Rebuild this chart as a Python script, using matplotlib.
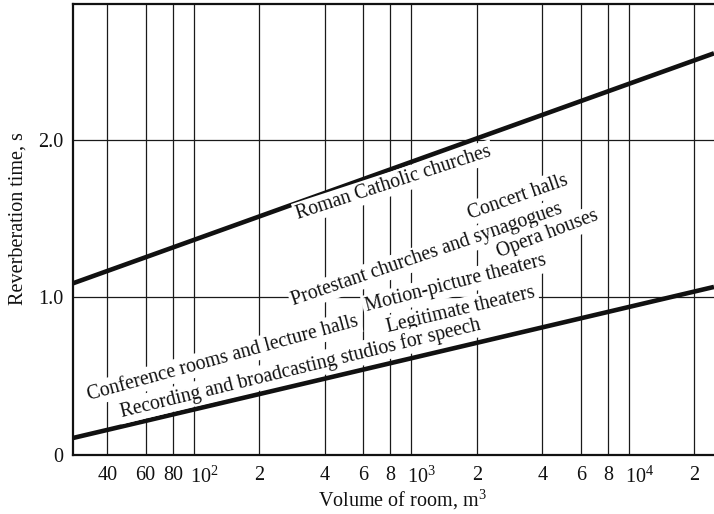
import numpy as np
import matplotlib
matplotlib.use("Agg")
import matplotlib.pyplot as plt
from matplotlib.transforms import ScaledTranslation

# Reverberation time vs room volume (log scale)
volume_ends = [27.8, 24600]          # m^3, ends of the two bounding lines
catholic_time = [1.09, 2.55]         # upper line, Roman Catholic churches
speech_time = [0.108, 1.067]         # lower line, studios for speech

grid_volumes = [40, 60, 80, 100, 200, 400, 600, 800, 1000,
                2000, 4000, 6000, 8000, 10000, 20000]
grid_labels = ['40', '60', '80', r'$\mathregular{10^2}$', '2', '4', '6', '8',
               r'$\mathregular{10^3}$', '2', '4', '6', '8',
               r'$\mathregular{10^4}$', '2']
y_ticks = [0, 1.0, 2.0]
y_labels = ['0', '1.0', '2.0']

room_labels = ['Roman Catholic churches', 'Concert halls',
               'Protestant churches and synagogues', 'Opera houses',
               'Motion-picture theaters', 'Legitimate theaters',
               'Conference rooms and lecture halls',
               'Recording and broadcasting studios for speech']
label_volume = [830, 3080, 1183, 4250, 1592, 1694, 136, 310]
label_time = [1.727, 1.638, 1.27, 1.40, 1.086, 0.921, 0.616, 0.552]
label_angle = [18.1, 19.3, 18.9, 20.8, 14.5, 13.4, 15.4, 13.7]

plt.rcParams['font.family'] = ['Liberation Serif', 'DejaVu Serif']
plt.rcParams['mathtext.fontset'] = 'custom'
plt.rcParams['mathtext.rm'] = 'Liberation Serif'
plt.rcParams['mathtext.it'] = 'Liberation Serif:italic'

fs = 14.5
ink = '#111111'

fig = plt.figure(figsize=(7.14, 5.14), dpi=100)
ax = fig.add_axes([73 / 714, 59 / 514, 641 / 714, 451 / 514])

ax.set_xscale('log')
ax.set_xlim(27.8, 24600)
ax.set_ylim(0, 2.863)

# grid lines only at the labelled values
for v in grid_volumes:
    ax.axvline(v, color='#1a1a1a', lw=0.9, zorder=1)
for t in y_ticks[1:]:
    ax.axhline(t, color='#1a1a1a', lw=0.9, zorder=1)

ax.plot(volume_ends, catholic_time, color=ink, lw=3.3,
        solid_capstyle='butt', zorder=3)
ax.plot(volume_ends, speech_time, color=ink, lw=3.3,
        solid_capstyle='butt', zorder=3)

for txt, v, t, a in zip(room_labels, label_volume, label_time, label_angle):
    ax.text(v, t, txt, rotation=a, rotation_mode='anchor',
            ha='center', va='center', fontsize=fs - 0.3, color=ink, zorder=4,
            bbox=dict(boxstyle='square,pad=0.12', fc='white', ec='none'))

ax.set_xticks(grid_volumes)
ax.set_xticklabels(grid_labels)
ax.xaxis.set_minor_locator(matplotlib.ticker.NullLocator())
ax.set_yticks(y_ticks)
ax.set_yticklabels(y_labels)
ax.tick_params(axis='both', length=0, labelsize=fs, colors=ink)
ax.tick_params(axis='x', pad=8)
ax.tick_params(axis='y', pad=7)

# powers of ten start just left of their grid line
shift = ScaledTranslation(-4 / 100, 0, fig.dpi_scale_trans)
for lab in ax.get_xticklabels():
    if '10^' in lab.get_text():
        lab.set_ha('left')
        lab.set_transform(lab.get_transform() + shift)

ax.set_xlabel(r'Volume of room, m$\mathregular{^3}$', fontsize=fs, color=ink,
              va='center')
ax.xaxis.set_label_coords(0.513, -0.10)
ax.set_ylabel('Reverberation time, s', fontsize=fs, color=ink, va='center')
ax.yaxis.set_label_coords(-0.0858, 0.525)

for side in ['left', 'bottom', 'top']:
    ax.spines[side].set_linewidth(1.6)
    ax.spines[side].set_color(ink)
ax.spines['right'].set_visible(False)

fig.savefig('out.png', dpi=100)
